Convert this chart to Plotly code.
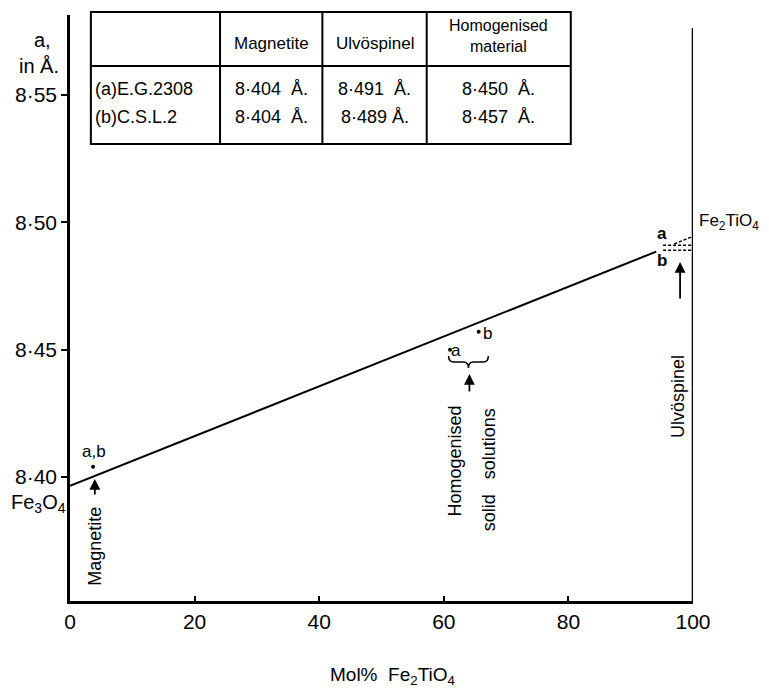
import plotly.graph_objects as go

# ---------------- data ----------------
line_x = [0, 94.1]
line_y = [8.3965, 8.4885]

magnetite_x = [3.7]
magnetite_y = [8.404]
homog_x = [61.0, 65.6]
homog_y = [8.450, 8.457]

ulvo_a = 8.491
ulvo_b = 8.489
ulvo_ext_x = [97.0, 100.0]
ulvo_ext_y = [8.4915, 8.4945]

x_ticks = [0, 20, 40, 60, 80, 100]
y_ticks = [8.40, 8.45, 8.50, 8.55]
y_tick_labels = ["8·40", "8·45", "8·50", "8·55"]

table_header = ["", "Magnetite", "Ulvöspinel", "Homogenised<br>material"]
table_rows = [
    ["(a)E.G.2308", "8·404  Å.", "8·491  Å.", "8·450  Å."],
    ["(b)C.S.L.2", "8·404  Å.", "8·489 Å.", "8·457  Å."],
]

# ---------------- geometry helpers ----------------
OFF = 8                      # page body margin of the browser
W, H = 769 - OFF, 698 - OFF
L, R, T, B = 66, 693, 15, 601          # reference pixel coords of plot area
X0, X1 = 0.0, 100.0
Y_BOT = 8.40 - (601 - 477) / 2547
Y_TOP = 8.40 + (477 - 15) / 2547

def px(x):   # reference pixel -> paper x
    return (x - L) / (R - L)

def py(y):   # reference pixel -> paper y
    return (B - y) / (B - T)

def dx(x):   # reference pixel -> data x
    return X0 + (x - L) / (R - L) * (X1 - X0)

def dy(y):   # reference pixel -> data y
    return Y_BOT + (B - y) / (B - T) * (Y_TOP - Y_BOT)

FONT = "Liberation Sans"
fig = go.Figure()

fig.add_trace(go.Scatter(x=line_x, y=line_y, mode="lines",
                         line=dict(color="black", width=2), hoverinfo="skip"))
fig.add_trace(go.Scatter(x=magnetite_x + homog_x, y=magnetite_y + homog_y, mode="markers",
                         marker=dict(color="black", size=4), hoverinfo="skip"))
for yv in (ulvo_a, ulvo_b):
    fig.add_trace(go.Scatter(x=[95.2, 100], y=[yv, yv], mode="lines",
                             line=dict(color="black", width=1.5, dash="3px,2px"), hoverinfo="skip"))
fig.add_trace(go.Scatter(x=ulvo_ext_x, y=ulvo_ext_y, mode="lines",
                         line=dict(color="black", width=1.5, dash="3px,2px"), hoverinfo="skip"))

shapes = []
# right axis
shapes.append(dict(type="line", xref="x", yref="y", x0=100, x1=100, y0=Y_BOT, y1=dy(28),
                   line=dict(color="black", width=2.5)))
# brace under a, b
bx0, bx1, bm, byy = dx(447), dx(487), dx(467), dy(362)
brace = (f"M {bx0},{dy(356)} Q {bx0},{byy} {dx(452)},{byy} L {dx(462)},{byy} "
         f"Q {bm},{byy} {bm},{dy(368)} Q {bm},{byy} {dx(472)},{byy} L {dx(482)},{byy} "
         f"Q {bx1},{byy} {bx1},{dy(356)}")
shapes.append(dict(type="path", xref="x", yref="y", path=brace, line=dict(color="black", width=1.5)))

# table
tl, tr, tt, tb, th = 87, 570, 12, 144, 66
cols = [87, 217, 320, 425, 570]
shapes.append(dict(type="rect", xref="paper", yref="paper", x0=px(tl), x1=px(tr), y0=py(tb), y1=py(tt),
                   line=dict(color="black", width=2), fillcolor="white", layer="above"))
shapes.append(dict(type="line", xref="paper", yref="paper", x0=px(tl), x1=px(tr), y0=py(th), y1=py(th),
                   line=dict(color="black", width=2)))
for c in cols[1:-1]:
    shapes.append(dict(type="line", xref="paper", yref="paper", x0=px(c), x1=px(c), y0=py(tb), y1=py(tt),
                       line=dict(color="black", width=2)))

ann = []
def text(x, y, s, size=19, xanchor="center", yanchor="middle", angle=0):
    ann.append(dict(x=px(x), y=py(y), xref="paper", yref="paper", text=s, showarrow=False,
                    font=dict(family=FONT, size=size, color="black"),
                    xanchor=xanchor, yanchor=yanchor, textangle=angle))

# table text
centers = [(cols[i] + cols[i + 1]) / 2 for i in range(4)]
for i, h in enumerate(table_header):
    if h:
        if "<br>" in h:
            text(centers[i], 36, h, size=16)
        else:
            text(centers[i], 44, h, size=17)
row_y = [89, 117]
for r, row in enumerate(table_rows):
    for i, v in enumerate(row):
        if i == 0:
            text(cols[0] + 2, row_y[r], v, size=18, xanchor="left")
        else:
            text(centers[i], row_y[r], v, size=18)

# axis label
text(38, 40, "a,", size=20)
text(35, 66, "in Å.", size=20)

# annotations around line
text(90, 451, "a,b", size=17)
text(34, 489, "Fe<sub>3</sub>O<sub>4</sub>", size=20, yanchor="top")
text(697, 222, "Fe<sub>2</sub>TiO<sub>4</sub>", size=17, xanchor="left")
text(662, 233, "<b>a</b>", size=17)
text(662, 260, "<b>b</b>", size=17)
text(454, 350, "a", size=17)
text(486, 333, "b", size=17)
text(91, 546, "Magnetite", size=18, angle=-90)
text(453, 461, "Homogenised", size=18, angle=-90)
text(488, 470, "solid   solutions", size=18, angle=-90)
text(678, 397, "Ulvöspinel", size=18, angle=-90)
text(391, 676, "Mol%  Fe<sub>2</sub>TiO<sub>4</sub>", size=19)

# arrows (head at hx,hy; tail at tx,ty; reference pixel coords)
for (hx, hy, tx, ty) in [(91, 479, 91, 496), (468, 374, 468, 393), (680, 262, 680, 300)]:
    ann.append(dict(x=px(hx), y=py(hy), xref="paper", yref="paper", ax=tx - hx, ay=ty - hy,
                    axref="pixel", ayref="pixel", showarrow=True, arrowhead=2, arrowsize=1.2,
                    arrowwidth=1.8, arrowcolor="black", text=""))

fig.update_layout(
    width=W, height=H,
    margin=dict(l=L - OFF, r=769 - R, t=T - OFF, b=698 - B),
    paper_bgcolor="white", plot_bgcolor="white",
    showlegend=False,
    shapes=shapes, annotations=ann,
    font=dict(family=FONT, size=19, color="black"),
    xaxis=dict(range=[X0, X1], tickvals=x_ticks, ticktext=[str(v) for v in x_ticks],
               ticks="inside", ticklen=5, tickwidth=2, tickcolor="black",
               showline=True, linecolor="black", linewidth=2.5, showgrid=False, zeroline=False,
               tickfont=dict(family=FONT, size=21)),
    yaxis=dict(range=[Y_BOT, Y_TOP], tickvals=y_ticks, ticktext=y_tick_labels,
               ticks="outside", ticklen=6, tickwidth=2, tickcolor="black",
               showline=True, linecolor="black", linewidth=2.5, showgrid=False, zeroline=False,
               tickfont=dict(family=FONT, size=21)),
)

fig.write_html("out.html")
